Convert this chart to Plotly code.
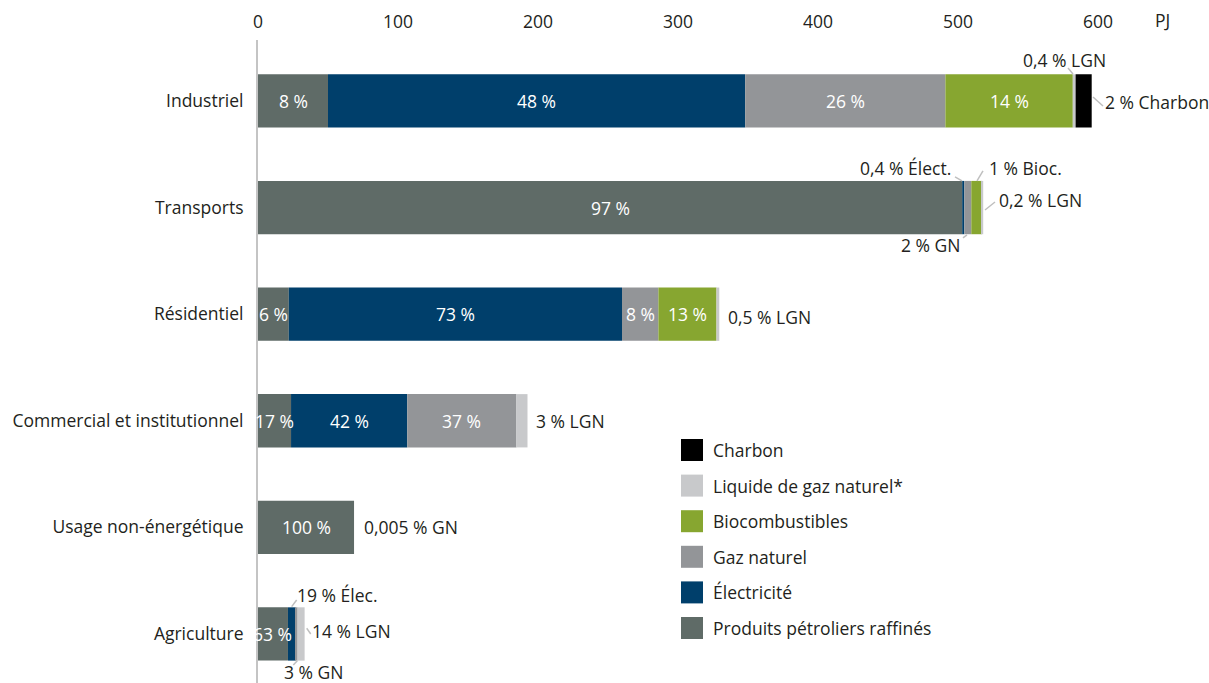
import numpy as np
import plotly.graph_objects as go

# ---------------- data ----------------
categories = ["Industriel", "Transports", "Résidentiel",
              "Commercial et institutionnel", "Usage non-énergétique", "Agriculture"]
series_names = ["Produits pétroliers raffinés", "Électricité", "Gaz naturel",
                "Biocombustibles", "Liquide de gaz naturel*", "Charbon"]
series_colors = ["#5f6b67", "#003f6b", "#939598", "#87a630", "#c8c9cb", "#000000"]

rpp = [50, 503, 22, 23.6, 68.6, 21.4]
elec = [298, 1.5, 238, 83, 0, 5.5]
gaz = [143, 5, 26, 78, 0.003, 1.4]
bio = [91, 7.5, 41.5, 0, 0, 0]
lgn = [2.0, 1.0, 2.0, 7.9, 0, 5.0]
charbon = [11.5, 0, 0, 0, 0, 0]

rpp_lbl = ["8 %", "97 %", "6 %", "17 %", "100 %", "63 %"]
elec_lbl = ["48 %", "", "73 %", "42 %", "", ""]
gaz_lbl = ["26 %", "", "8 %", "37 %", "", ""]
bio_lbl = ["14 %", "", "13 %", "", "", ""]

x_ticks = [0, 100, 200, 300, 400, 500, 600]
unit_label = "PJ"

# outside call-outs: (category, series index, text, xanchor, xshift px, yshift px, leader px offsets or None)
callouts = [
    (0, 4, "0,4 % LGN", "center", -11.6, 41, (-7.6, -33, -2.6, -27)),
    (0, 5, "2 % Charbon", "left", 11, -1, (1.3, -4, 11.3, 5)),
    (1, 1, "0,4 % Élect.", "right", -11.3, 39.6, (-9.3, -30.6, -2.3, -26.6)),
    (1, 3, "1 % Bioc.", "left", 5.2, 39.6, (1.2, -36.6, -4.8, -26.6)),
    (1, 4, "0,2 % LGN", "left", 13.8, 7.6, (11.8, -5.6, 1.8, 2.4)),
    (1, 2, "2 % GN", "right", -9.3, -37.4, (-8.3, 30.4, -4.3, 27.4)),
    (2, 4, "0,5 % LGN", "left", 7, -3, None),
    (3, 4, "3 % LGN", "left", 6.5, 0, None),
    (4, 2, "0,005 % GN", "left", 8, 0, None),
    (5, 1, "19 % Élec.", "left", -1, 39, (-4, -27.3, 1, -34)),
    (5, 4, "14 % LGN", "left", 5.4, 3, (2.1, -5.7, 6.1, 0)),
    (5, 2, "3 % GN", "left", -15.6, -38, (-4.3, 31, -0.3, 26.7)),
]

# ---------------- layout constants ----------------
W, H = 1209, 683
ML, MR, MT, MB = 258, 41, 40, 0
XMAX = 650
YR = [5.46, -0.572]
PXX = (W - ML - MR) / XMAX
PXY = (H - MT - MB) / (YR[0] - YR[1])
FONT = "Open Sans"
FS = 17.5
TXT = "#231f20"

values = [rpp, elec, gaz, bio, lgn, charbon]
inside_labels = [rpp_lbl, elec_lbl, gaz_lbl, bio_lbl, None, None]
arr = np.array(values, dtype=float)
ends = np.cumsum(arr, axis=0)
starts = ends - arr
ypos = list(range(len(categories)))

fig = go.Figure()
for i, name in enumerate(series_names):
    fig.add_trace(go.Bar(
        y=ypos, x=values[i], base=starts[i], orientation="h", name=name,
        marker=dict(color=series_colors[i], line=dict(width=0)),
        width=0.5, showlegend=False, hoverinfo="x+name",
    ))

annotations = []
shapes = []
# inside labels
for i, lbls in enumerate(inside_labels):
    if lbls is None:
        continue
    for c, t in enumerate(lbls):
        if t:
            annotations.append(dict(
                x=(starts[i][c] + ends[i][c]) / 2, y=c, xref="x", yref="y",
                text=t, showarrow=False, font=dict(family=FONT, size=FS, color="#ffffff"),
            ))

# outside call-outs
for c, s, t, xa, xs, ys, lead in callouts:
    xe = ends[s][c]
    annotations.append(dict(
        x=xe, y=c, xref="x", yref="y", text=t, showarrow=False,
        xanchor=xa, yanchor="middle", xshift=xs, yshift=ys,
        font=dict(family=FONT, size=FS, color=TXT),
    ))
    if lead:
        dx0, dy0, dx1, dy1 = lead
        shapes.append(dict(
            type="line", xref="x", yref="y",
            x0=xe + dx0 / PXX, y0=c + dy0 / PXY, x1=xe + dx1 / PXX, y1=c + dy1 / PXY,
            line=dict(color="#bfbfbf", width=1.5),
        ))

# unit label
annotations.append(dict(
    x=646, y=1, xref="x", yref="paper", text=unit_label, showarrow=False,
    yanchor="middle", yshift=20, font=dict(family=FONT, size=FS, color=TXT),
))


# manual legend
def px2paper(px, py):
    return (px - ML) / (W - ML - MR), 1 - (py - MT) / (H - MT - MB)


legend_order = [5, 4, 3, 2, 1, 0]
for k, i in enumerate(legend_order):
    cy = 450 + k * 35.6
    x0, y0 = px2paper(681, cy - 11)
    x1, y1 = px2paper(703, cy + 11)
    shapes.append(dict(type="rect", xref="paper", yref="paper", x0=x0, y0=y0, x1=x1, y1=y1,
                       fillcolor=series_colors[i], line=dict(width=0)))
    tx, ty = px2paper(711, cy)
    annotations.append(dict(x=tx, y=ty, xref="paper", yref="paper", text=series_names[i],
                            showarrow=False, xanchor="left", yanchor="middle",
                            font=dict(family=FONT, size=FS, color=TXT)))

fig.update_layout(
    width=W, height=H, barmode="overlay",
    margin=dict(l=ML, r=MR, t=MT, b=MB, autoexpand=False),
    paper_bgcolor="white", plot_bgcolor="white",
    font=dict(family=FONT, size=FS, color=TXT),
    annotations=annotations, shapes=shapes,
    xaxis=dict(side="top", range=[0, XMAX], tickvals=x_ticks, showgrid=False, automargin=False,
               zeroline=False, showline=False, ticks="outside", ticklen=4,
               tickcolor="rgba(0,0,0,0)", tickfont=dict(family=FONT, size=FS, color=TXT)),
    yaxis=dict(range=YR, tickvals=ypos, ticktext=categories, showgrid=False, automargin=False,
               zeroline=False, showline=True, linecolor="#c4c4c4", linewidth=2,
               ticks="outside", ticklen=9, tickcolor="rgba(0,0,0,0)",
               tickfont=dict(family=FONT, size=FS, color=TXT)),
)

fig.write_html(
    "out.html",
    config={"displayModeBar": False},
    post_script="document.body.style.margin='0';document.body.style.overflow='hidden';",
)
